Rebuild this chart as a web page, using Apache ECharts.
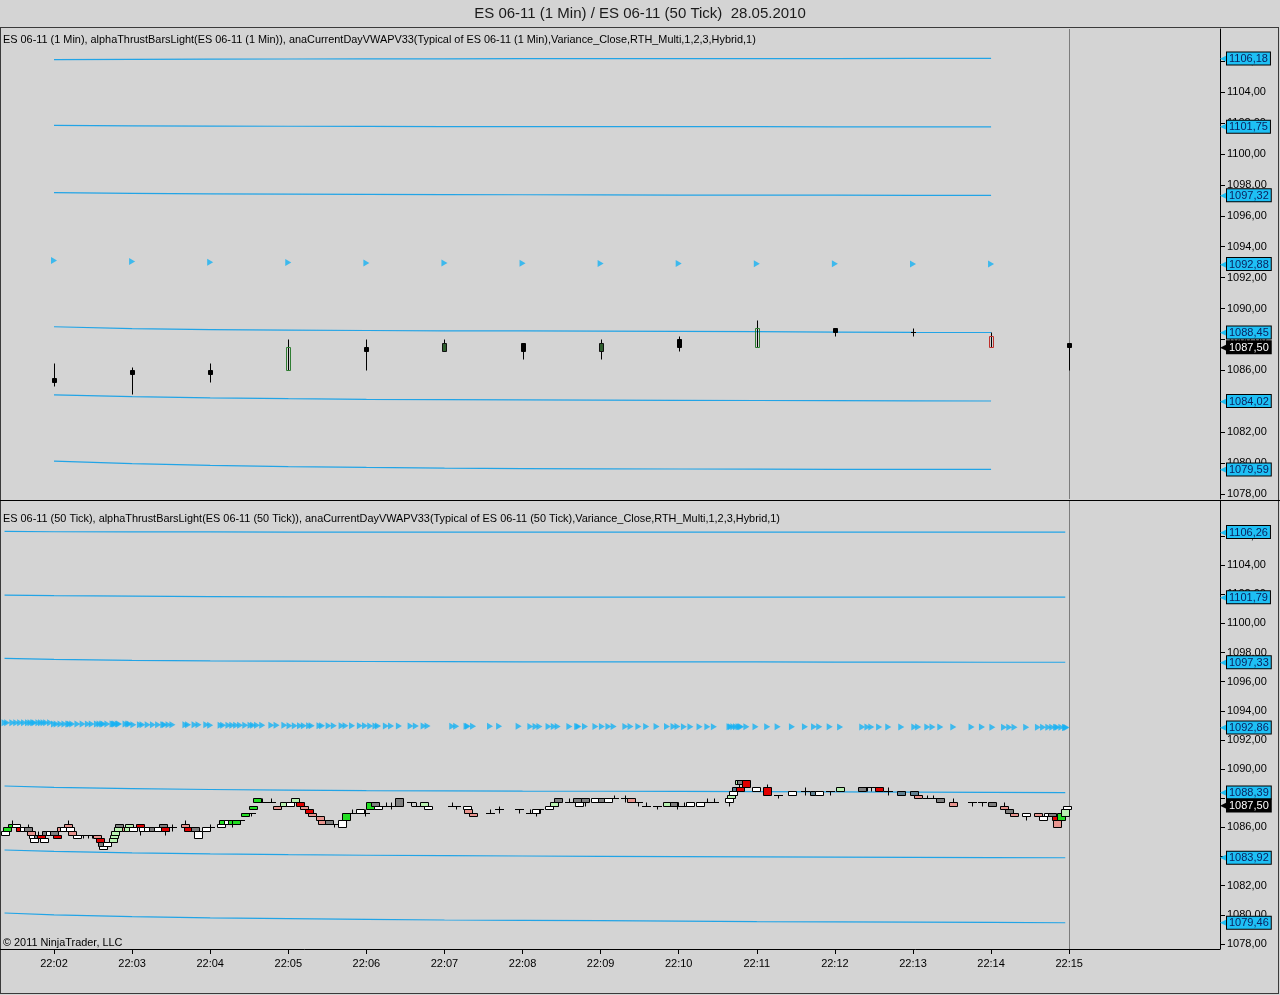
<!DOCTYPE html>
<html>
<head>
<meta charset="utf-8">
<title>ES 06-11 (1 Min) / ES 06-11 (50 Tick)</title>
<script src="https://cdn.jsdelivr.net/npm/echarts@6/dist/echarts.min.js"></script>
<style>
html, body { margin: 0; padding: 0; background: #d4d4d4; }
#frame { position: absolute; left: 0; top: 27px; width: 1277px; height: 965px; border: 1px solid #3a3a3a; }
#split { position: absolute; left: 0; top: 500px; width: 1280px; height: 1px; background: #000; }
#chart { position: absolute; left: 0; top: 0; width: 1280px; height: 995px; }
</style>
</head>
<body>
<div id="frame"></div>
<div id="split"></div>
<div id="chart"></div>
<script>
// Two stacked panels: 1-minute candles (top) and 50-tick bars (bottom),
// both with the session VWAP (triangles) and its 1/2/3 sigma bands.
// Time is kept as seconds after 22:00.

var FONT = 'Liberation Sans, Arial, sans-serif';
var BAND = '#22a4e6';
var TRI = '#16b2f2';

var minuteTicks = [120, 180, 240, 300, 360, 420, 480, 540, 600, 660, 720, 780, 840, 900];
var priceTicks = [1078, 1080, 1082, 1084, 1086, 1088, 1090, 1092, 1094, 1096, 1098, 1100, 1102, 1104, 1106];
var cursorTime = 900;
var lastPrice = 1087.5;

// [sec, open, close, low, high, style]
var minuteBars = [
    [120, 1085.5, 1085.25, 1085.0, 1086.5, 'K'],
    [180, 1086.0, 1085.75, 1084.5, 1086.25, 'K'],
    [240, 1086.0, 1085.75, 1085.25, 1086.5, 'K'],
    [300, 1086.0, 1087.5, 1086.0, 1088.0, 'UG'],
    [360, 1087.5, 1087.25, 1086.0, 1088.0, 'K'],
    [420, 1087.25, 1087.75, 1087.25, 1088.0, 'DG'],
    [480, 1087.75, 1087.25, 1086.75, 1087.75, 'K'],
    [540, 1087.25, 1087.75, 1086.75, 1088.0, 'DG'],
    [600, 1088.0, 1087.5, 1087.25, 1088.25, 'K'],
    [660, 1087.5, 1088.75, 1087.5, 1089.25, 'UG'],
    [720, 1088.75, 1088.5, 1088.25, 1088.75, 'K'],
    [780, 1088.5, 1088.5, 1088.25, 1088.75, 'K'],
    [840, 1088.25, 1087.5, 1087.5, 1088.5, 'UR'],
    [900, 1087.75, 1087.5, 1086.0, 1087.75, 'K']
];

var minuteBandTimes = [120, 180, 240, 300, 360, 420, 480, 540, 600, 660, 720, 780, 840];
var minuteUpper3 = [1106.10, 1106.12, 1106.13, 1106.14, 1106.15, 1106.15, 1106.16, 1106.16, 1106.17, 1106.17, 1106.17, 1106.18, 1106.18];
var minuteUpper2 = [1101.85, 1101.82, 1101.80, 1101.79, 1101.78, 1101.77, 1101.77, 1101.76, 1101.76, 1101.76, 1101.75, 1101.75, 1101.75];
var minuteUpper1 = [1097.50, 1097.45, 1097.42, 1097.40, 1097.38, 1097.37, 1097.36, 1097.35, 1097.34, 1097.34, 1097.33, 1097.32, 1097.32];
var minuteVwap = [1093.10, 1093.04, 1093.00, 1092.97, 1092.95, 1092.94, 1092.93, 1092.92, 1092.91, 1092.90, 1092.89, 1092.88, 1092.88];
var minuteLower1 = [1088.82, 1088.70, 1088.64, 1088.60, 1088.58, 1088.56, 1088.55, 1088.54, 1088.52, 1088.50, 1088.48, 1088.46, 1088.45];
var minuteLower2 = [1084.41, 1084.30, 1084.22, 1084.17, 1084.13, 1084.11, 1084.09, 1084.07, 1084.06, 1084.05, 1084.04, 1084.03, 1084.02];
var minuteLower3 = [1080.13, 1079.97, 1079.86, 1079.78, 1079.72, 1079.68, 1079.65, 1079.63, 1079.62, 1079.61, 1079.60, 1079.59, 1079.59];

// 50 tick bars: [sec, open, close, low, high, colour]; D = doji
var tickBars = [
    [82, 1085.5, 1085.75, 1085.5, 1085.75, 'W'], [84, 1085.75, 1086.0, 1085.75, 1086.0, 'G'],
    [88, 1086.0, 1086.25, 1086.0, 1086.5, 'G'], [91, 1086.25, 1086.0, 1085.75, 1086.25, 'W'],
    [94, 1086.0, 1085.75, 1085.75, 1086.0, 'R'], [97, 1085.75, 1086.0, 1085.75, 1086.0, 'W'],
    [100, 1086.0, 1085.75, 1085.75, 1086.25, 'GR'], [102, 1085.75, 1085.5, 1085.5, 1085.75, 'PK'],
    [104, 1085.5, 1085.25, 1085.25, 1085.5, 'W'], [105, 1085.25, 1085.0, 1085.0, 1085.25, 'W'],
    [108, 1085.25, 1085.5, 1085.25, 1085.75, 'GR'], [110, 1085.5, 1085.25, 1085.25, 1085.5, 'R'],
    [112, 1085.25, 1085.0, 1085.0, 1085.25, 'W'], [114, 1085.5, 1085.75, 1085.5, 1085.75, 'GR'],
    [117, 1085.75, 1085.5, 1085.5, 1085.75, 'W'], [120, 1085.5, 1085.75, 1085.5, 1085.75, 'GR'],
    [122, 1085.5, 1085.25, 1085.25, 1085.5, 'R'], [125, 1085.75, 1086.0, 1085.75, 1086.0, 'PK'],
    [128, 1086.0, 1085.75, 1085.75, 1086.0, 'W'], [131, 1086.0, 1086.25, 1086.0, 1086.5, 'PK'],
    [132, 1086.0, 1085.75, 1085.75, 1086.0, 'W'], [134, 1085.75, 1085.5, 1085.5, 1085.75, 'PK'],
    [138, 1085.5, 1085.25, 1085.25, 1085.5, 'W'], [142, 1085.5, 1085.5, 1085.25, 1085.5, 'D'],
    [146, 1085.5, 1085.5, 1085.25, 1085.5, 'D'], [149, 1085.5, 1085.5, 1085.25, 1085.5, 'D'],
    [153, 1085.5, 1085.25, 1085.25, 1085.5, 'PK'], [155, 1085.25, 1085.0, 1085.0, 1085.25, 'R'],
    [157, 1085.0, 1084.75, 1084.75, 1085.0, 'GR'], [158, 1084.75, 1084.5, 1084.5, 1084.75, 'W'],
    [161, 1084.75, 1085.0, 1084.5, 1085.0, 'W'], [165, 1085.0, 1085.25, 1085.0, 1085.25, 'LG'],
    [166, 1085.25, 1085.5, 1085.25, 1085.5, 'LG'], [167, 1085.5, 1085.75, 1085.5, 1085.75, 'LG'],
    [169, 1085.75, 1086.0, 1085.75, 1086.0, 'LG'], [170, 1086.0, 1086.25, 1086.0, 1086.25, 'GR'],
    [175, 1086.0, 1085.75, 1085.75, 1086.0, 'PK'], [177, 1085.75, 1086.0, 1085.75, 1086.0, 'LG'],
    [178, 1086.0, 1086.25, 1086.0, 1086.25, 'LG'], [181, 1086.0, 1085.75, 1085.75, 1086.0, 'W'],
    [186, 1086.25, 1086.0, 1085.5, 1086.25, 'R'], [188, 1086.0, 1085.75, 1085.75, 1086.0, 'W'],
    [192, 1085.75, 1086.0, 1085.75, 1086.0, 'W'], [196, 1086.0, 1085.75, 1085.75, 1086.0, 'GR'],
    [200, 1085.75, 1086.0, 1085.75, 1086.0, 'W'], [204, 1086.0, 1086.25, 1086.0, 1086.25, 'GR'],
    [205, 1086.0, 1085.75, 1085.5, 1086.0, 'R'], [208, 1086.0, 1086.0, 1085.75, 1086.0, 'D'],
    [211, 1086.0, 1086.0, 1085.75, 1086.25, 'D'],
    [221, 1086.25, 1086.0, 1086.0, 1086.5, 'PK'], [223, 1086.0, 1085.75, 1085.75, 1086.0, 'R'],
    [228, 1086.0, 1085.75, 1085.75, 1086.0, 'GR'], [231, 1085.75, 1085.25, 1085.25, 1085.75, 'W'],
    [237, 1085.75, 1086.0, 1085.75, 1086.0, 'W'], [240, 1086.0, 1086.0, 1086.0, 1086.25, 'D'],
    [248, 1086.0, 1086.25, 1086.0, 1086.25, 'W'], [250, 1086.25, 1086.5, 1086.25, 1086.5, 'G'],
    [254, 1086.5, 1086.25, 1086.25, 1086.5, 'W'], [257, 1086.25, 1086.5, 1086.0, 1086.5, 'G'],
    [260, 1086.25, 1086.5, 1086.25, 1086.5, 'G'], [263, 1086.5, 1086.5, 1086.25, 1086.5, 'D'],
    [267, 1086.75, 1087.0, 1086.75, 1087.0, 'G'], [271, 1087.0, 1087.0, 1086.75, 1087.0, 'D'],
    [273, 1087.25, 1087.5, 1087.25, 1087.5, 'G'], [276, 1087.75, 1088.0, 1087.75, 1088.0, 'G'],
    [280, 1087.75, 1087.75, 1087.75, 1088.0, 'D'], [287, 1087.75, 1087.75, 1087.75, 1088.0, 'D'],
    [291, 1087.5, 1087.25, 1087.25, 1087.5, 'PK'], [297, 1087.5, 1087.75, 1087.5, 1087.75, 'LG'],
    [301, 1087.75, 1087.5, 1087.5, 1087.75, 'W'], [305, 1087.75, 1088.0, 1087.75, 1088.0, 'LG'],
    [309, 1087.75, 1087.5, 1087.5, 1087.75, 'R'], [312, 1087.5, 1087.25, 1087.25, 1087.5, 'PK'],
    [316, 1087.25, 1087.0, 1087.0, 1087.25, 'R'], [318, 1087.0, 1086.75, 1086.75, 1087.0, 'PK'],
    [324, 1086.75, 1086.5, 1086.5, 1086.75, 'PK'], [326, 1086.5, 1086.25, 1086.25, 1086.5, 'PK'],
    [331, 1086.5, 1086.25, 1086.25, 1086.5, 'GR'], [335, 1086.25, 1086.25, 1086.0, 1086.25, 'D'],
    [341, 1086.0, 1086.5, 1086.0, 1086.5, 'W'], [344, 1086.5, 1087.0, 1086.5, 1087.0, 'G'],
    [349, 1087.0, 1087.0, 1087.0, 1087.25, 'D'], [355, 1087.0, 1087.25, 1087.0, 1087.25, 'W'],
    [359, 1087.0, 1087.0, 1086.75, 1087.25, 'D'], [363, 1087.25, 1087.75, 1087.25, 1087.75, 'G'],
    [367, 1087.75, 1087.5, 1087.5, 1087.75, 'GR'], [369, 1087.5, 1087.25, 1087.25, 1087.5, 'W'],
    [375, 1087.5, 1087.5, 1087.5, 1087.75, 'D'], [379, 1087.5, 1087.5, 1087.25, 1087.75, 'D'],
    [385, 1087.5, 1088.0, 1087.5, 1088.0, 'GR'], [394, 1087.75, 1087.75, 1087.5, 1087.75, 'D'],
    [398, 1087.5, 1087.5, 1087.5, 1087.75, 'D'], [404, 1087.5, 1087.75, 1087.5, 1087.75, 'LG'],
    [407, 1087.5, 1087.25, 1087.25, 1087.5, 'W'],
    [426, 1087.5, 1087.5, 1087.5, 1087.75, 'D'], [429, 1087.5, 1087.5, 1087.25, 1087.5, 'D'],
    [437, 1087.25, 1087.5, 1087.25, 1087.5, 'W'], [438, 1087.25, 1087.0, 1087.0, 1087.25, 'PK'],
    [442, 1087.0, 1086.75, 1086.75, 1087.0, 'PK'], [455, 1087.0, 1087.0, 1087.0, 1087.25, 'D'],
    [462, 1087.25, 1087.25, 1087.0, 1087.5, 'D'], [477, 1087.25, 1087.25, 1087.0, 1087.25, 'D'],
    [486, 1087.0, 1087.0, 1087.0, 1087.25, 'D'], [490, 1087.0, 1087.25, 1086.75, 1087.25, 'W'],
    [493, 1087.25, 1087.25, 1087.0, 1087.25, 'D'], [500, 1087.25, 1087.5, 1087.25, 1087.5, 'W'],
    [504, 1087.5, 1087.75, 1087.5, 1087.75, 'LG'], [507, 1087.75, 1088.0, 1087.5, 1088.0, 'GR'],
    [516, 1087.75, 1087.75, 1087.75, 1088.0, 'D'], [522, 1087.75, 1088.0, 1087.75, 1088.0, 'GR'],
    [523, 1087.75, 1087.5, 1087.5, 1087.75, 'W'], [528, 1088.0, 1087.75, 1087.5, 1088.0, 'GR'],
    [536, 1087.75, 1088.0, 1087.75, 1088.0, 'W'], [541, 1088.0, 1087.75, 1087.75, 1088.0, 'GR'],
    [546, 1087.75, 1088.0, 1087.75, 1088.0, 'W'], [550, 1088.0, 1088.0, 1088.0, 1088.25, 'D'],
    [559, 1088.0, 1088.0, 1087.75, 1088.25, 'D'], [563, 1088.0, 1087.75, 1087.75, 1088.0, 'PK'],
    [569, 1087.75, 1087.75, 1087.5, 1087.75, 'D'], [575, 1087.5, 1087.5, 1087.5, 1087.75, 'D'],
    [583, 1087.5, 1087.5, 1087.25, 1087.5, 'D'], [591, 1087.5, 1087.75, 1087.5, 1087.75, 'LG'],
    [596, 1087.75, 1087.5, 1087.5, 1087.75, 'GR'], [599, 1087.5, 1087.5, 1087.25, 1087.75, 'D'],
    [604, 1087.5, 1087.5, 1087.5, 1087.75, 'D'], [609, 1087.5, 1087.75, 1087.5, 1087.75, 'W'],
    [616, 1087.75, 1087.5, 1087.5, 1087.75, 'W'], [622, 1087.75, 1087.75, 1087.75, 1088.0, 'D'],
    [627, 1087.75, 1087.75, 1087.75, 1088.0, 'D'], [639, 1087.75, 1088.0, 1087.5, 1088.0, 'W'],
    [640, 1088.0, 1088.25, 1088.0, 1088.25, 'LG'], [642, 1088.25, 1088.5, 1088.25, 1088.5, 'W'],
    [644, 1088.5, 1088.75, 1088.5, 1088.75, 'SL'], [646, 1089.0, 1089.25, 1088.75, 1089.25, 'LG'],
    [647, 1088.75, 1088.5, 1088.5, 1088.75, 'R'], [648, 1089.25, 1089.0, 1089.0, 1089.25, 'GR'],
    [652, 1089.25, 1088.75, 1088.75, 1089.25, 'R'], [659, 1088.75, 1088.5, 1088.5, 1088.75, 'W'],
    [668, 1088.75, 1088.25, 1088.25, 1089.0, 'R'], [676, 1088.25, 1088.25, 1088.0, 1088.25, 'D'],
    [687, 1088.25, 1088.5, 1088.25, 1088.5, 'W'], [697, 1088.5, 1088.5, 1088.25, 1088.75, 'D'],
    [704, 1088.5, 1088.25, 1088.25, 1088.5, 'SL'], [708, 1088.25, 1088.5, 1088.25, 1088.5, 'W'],
    [716, 1088.5, 1088.5, 1088.25, 1088.5, 'D'], [724, 1088.5, 1088.75, 1088.5, 1088.75, 'LG'],
    [741, 1088.75, 1088.5, 1088.5, 1088.75, 'GR'], [745, 1088.75, 1088.75, 1088.5, 1088.75, 'D'],
    [748, 1088.75, 1088.75, 1088.5, 1088.75, 'D'], [754, 1088.75, 1088.5, 1088.5, 1088.75, 'R'],
    [761, 1088.5, 1088.5, 1088.25, 1088.75, 'D'], [771, 1088.5, 1088.25, 1088.25, 1088.5, 'SL'],
    [781, 1088.5, 1088.25, 1088.25, 1088.5, 'SL'], [784, 1088.25, 1088.0, 1088.0, 1088.25, 'PK'],
    [791, 1088.0, 1088.0, 1088.0, 1088.25, 'D'], [795, 1088.0, 1088.0, 1088.0, 1088.25, 'D'],
    [801, 1088.0, 1087.75, 1087.75, 1088.0, 'GR'], [811, 1087.75, 1087.5, 1087.5, 1088.0, 'PK'],
    [825, 1087.75, 1087.75, 1087.5, 1087.75, 'D'], [833, 1087.75, 1087.75, 1087.5, 1087.75, 'D'],
    [841, 1087.75, 1087.5, 1087.5, 1087.75, 'GR'], [850, 1087.5, 1087.25, 1087.25, 1087.75, 'PK'],
    [854, 1087.25, 1087.0, 1087.0, 1087.25, 'GR'], [858, 1087.0, 1086.75, 1086.75, 1087.0, 'PK'],
    [867, 1086.75, 1087.0, 1086.5, 1087.0, 'W'], [876, 1087.0, 1086.75, 1086.75, 1087.0, 'PK'],
    [880, 1086.75, 1086.5, 1086.5, 1086.75, 'W'], [884, 1086.75, 1087.0, 1086.75, 1087.0, 'W'],
    [887, 1087.0, 1086.75, 1086.75, 1087.0, 'GR'], [890, 1086.75, 1086.5, 1086.5, 1086.75, 'R'],
    [891, 1086.5, 1086.0, 1086.0, 1086.5, 'PK'], [894, 1086.5, 1087.0, 1086.5, 1087.0, 'G'],
    [897, 1086.75, 1087.25, 1086.75, 1087.25, 'LG'], [898, 1087.25, 1087.5, 1087.25, 1087.5, 'W']
];

var tickBandTimes = [82, 120, 180, 240, 300, 360, 420, 480, 540, 600, 660, 720, 780, 840, 897];
var tickUpper3 = [1106.30, 1106.28, 1106.27, 1106.27, 1106.26, 1106.26, 1106.26, 1106.26, 1106.26, 1106.26, 1106.26, 1106.26, 1106.26, 1106.26, 1106.26];
var tickUpper2 = [1101.94, 1101.90, 1101.86, 1101.83, 1101.82, 1101.81, 1101.80, 1101.80, 1101.80, 1101.79, 1101.79, 1101.79, 1101.79, 1101.79, 1101.79];
var tickUpper1 = [1097.60, 1097.52, 1097.46, 1097.42, 1097.40, 1097.38, 1097.37, 1097.36, 1097.36, 1097.35, 1097.35, 1097.34, 1097.34, 1097.33, 1097.33];
var tickVwap = [1093.18, 1093.10, 1093.04, 1093.00, 1092.97, 1092.95, 1092.94, 1092.93, 1092.92, 1092.91, 1092.90, 1092.89, 1092.88, 1092.87, 1092.86];
var tickLower1 = [1088.84, 1088.74, 1088.66, 1088.60, 1088.56, 1088.53, 1088.51, 1088.49, 1088.48, 1088.47, 1088.46, 1088.44, 1088.42, 1088.40, 1088.39];
var tickLower2 = [1084.45, 1084.35, 1084.25, 1084.18, 1084.13, 1084.09, 1084.06, 1084.04, 1084.02, 1084.00, 1083.98, 1083.96, 1083.95, 1083.93, 1083.92];
var tickLower3 = [1080.13, 1080.00, 1079.88, 1079.80, 1079.74, 1079.69, 1079.65, 1079.62, 1079.60, 1079.57, 1079.54, 1079.52, 1079.50, 1079.48, 1079.46];

var minuteStyle = {
    K:  { fill: '#000000', stroke: '#000000' },
    UG: { fill: 'rgba(0,0,0,0)', stroke: '#2f7d32' },
    DG: { fill: '#2e5e2e', stroke: '#111111' },
    UR: { fill: 'rgba(0,0,0,0)', stroke: '#c0302c' }
};
var tickFill = { W: '#ffffff', LG: '#b8f0b0', G: '#22dd22', GR: '#7f7f7f', SL: '#5f8091', PK: '#e8958f', R: '#e00000' };

function price(v) { return v.toFixed(2).replace('.', ','); }
function clock(s) {
    var m = Math.floor(s / 60);
    return '22:' + (m < 10 ? '0' + m : m);
}

// box + wick bars; a bar with open == close is drawn as a flat dash
function barRenderer(rows, bodyW, styleOf) {
    var half = Math.floor(bodyW / 2);
    return function (params, api) {
        var row = rows[params.dataIndex];
        var t = api.value(0);
        var pO = api.coord([t, api.value(1)]);
        var pC = api.coord([t, api.value(2)]);
        var pL = api.coord([t, api.value(3)]);
        var pH = api.coord([t, api.value(4)]);
        var x = Math.round(pO[0]) + 0.5;
        var st = styleOf(row[5]);
        var kids = [{
            type: 'line',
            shape: { x1: x, y1: Math.round(pH[1]) + 0.5, x2: x, y2: Math.round(pL[1]) + 0.5 },
            style: { stroke: '#000', lineWidth: 1 }
        }];
        if (row[1] === row[2]) {
            var yd = Math.round(pO[1]) + 0.5;
            kids.push({ type: 'line', shape: { x1: x - half - 0.5, y1: yd, x2: x + half + 0.5, y2: yd }, style: { stroke: '#000', lineWidth: 1 } });
        } else {
            var y0 = Math.round(Math.min(pO[1], pC[1])) + 0.5;
            var y1 = Math.round(Math.max(pO[1], pC[1])) + 0.5;
            kids.push({ type: 'rect', shape: { x: x - half, y: y0, width: half * 2, height: y1 - y0 }, style: { fill: st.fill, stroke: st.stroke, lineWidth: 1 } });
        }
        return { type: 'group', children: kids };
    };
}

function tagLabel(dark) {
    return {
        show: true,
        position: 'end',
        distance: 0,
        formatter: function (p) { return '{a|◀}{b|' + price(p.value) + '}'; },
        rich: {
            a: { color: dark ? '#000' : '#1ec0f5', fontSize: 13, padding: [0, -3, 0, 0] },
            b: {
                fontFamily: FONT, fontSize: 11, lineHeight: 12,
                color: dark ? '#ffffff' : '#0b2460',
                backgroundColor: dark ? '#000000' : '#1ec0f5',
                borderColor: '#000', borderWidth: 1, padding: [1, 2, 0, 2]
            }
        }
    };
}

function tagLine(v) {
    return {
        silent: true, animation: false, symbol: ['none', 'none'],
        lineStyle: { width: 0, color: 'rgba(0,0,0,0)' },
        label: tagLabel(false),
        data: [{ yAxis: v }]
    };
}

function bandSeries(axis, times, values) {
    var pts = [];
    for (var i = 0; i < times.length; i++) pts.push([times[i], values[i]]);
    return {
        type: 'line', xAxisIndex: axis, yAxisIndex: axis, data: pts,
        symbol: 'none', silent: true, animation: false,
        lineStyle: { color: BAND, width: 1.2 },
        markLine: tagLine(values[values.length - 1])
    };
}

// VWAP marker per bar: value of the latest listed VWAP reading at or before the bar
function vwapAt(times, values, t) {
    var v = values[0];
    for (var i = 0; i < times.length; i++) { if (times[i] <= t) v = values[i]; }
    return v;
}

function barSeries(axis, rows, bodyW, styleOf) {
    var data = [];
    for (var i = 0; i < rows.length; i++) data.push(rows[i].slice(0, 5));
    return {
        type: 'custom', xAxisIndex: axis, yAxisIndex: axis, data: data,
        encode: { x: 0, y: [1, 2, 3, 4] }, clip: true, silent: true, animation: false,
        renderItem: barRenderer(rows, bodyW, styleOf),
        markLine: {
            silent: true, animation: false, symbol: ['none', 'none'],
            data: [
                { xAxis: cursorTime, lineStyle: { color: '#7c7c7c', width: 1, type: 'solid' }, label: { show: false } },
                { yAxis: lastPrice, lineStyle: { width: 0, color: 'rgba(0,0,0,0)' }, label: tagLabel(true) }
            ]
        },
        z: 5
    };
}

function triSeries(axis, pts, size) {
    return {
        type: 'scatter', xAxisIndex: axis, yAxisIndex: axis, data: pts,
        symbol: 'path://M0,0L9,5L0,10Z', symbolSize: size, silent: true, animation: false,
        itemStyle: { color: TRI },
        markLine: tagLine(pts[pts.length - 1][1])
    };
}

var minuteTri = [];
for (var i = 0; i < minuteBandTimes.length; i++) minuteTri.push([minuteBandTimes[i], minuteVwap[i]]);
var tickTri = [];
for (var j = 0; j < tickBars.length; j++) {
    tickTri.push([tickBars[j][0], vwapAt(tickBandTimes, tickVwap, tickBars[j][0])]);
}
tickTri.push([tickBandTimes[tickBandTimes.length - 1], tickVwap[tickVwap.length - 1]]);

function yAxis(idx, min, max) {
    return {
        type: 'value', gridIndex: idx, position: 'right', min: min, max: max,
        axisLine: { show: true, lineStyle: { color: '#000', width: 1 } },
        axisTick: { show: true, length: 5, customValues: priceTicks, lineStyle: { color: '#000' } },
        axisLabel: { customValues: priceTicks, formatter: price, color: '#000', fontSize: 11, margin: 7, fontFamily: FONT },
        splitLine: { show: false }
    };
}

var legendStyle = { fontSize: 10.9, fontWeight: 'normal', color: '#000', fontFamily: FONT };

var chart = echarts.init(document.getElementById('chart'), null, { renderer: 'canvas' });
chart.setOption({
    backgroundColor: 'transparent',
    animation: false,
    textStyle: { fontFamily: FONT },
    title: [
        { text: 'ES 06-11 (1 Min) / ES 06-11 (50 Tick)  28.05.2010', left: 'center', top: 6, padding: 0,
          textStyle: { fontSize: 15, fontWeight: 'normal', color: '#1a1a1a', fontFamily: FONT } },
        { text: 'ES 06-11 (1 Min), alphaThrustBarsLight(ES 06-11 (1 Min)), anaCurrentDayVWAPV33(Typical of ES 06-11 (1 Min),Variance_Close,RTH_Multi,1,2,3,Hybrid,1)',
          left: 3, top: 34, padding: 0, textStyle: legendStyle },
        { text: 'ES 06-11 (50 Tick), alphaThrustBarsLight(ES 06-11 (50 Tick)), anaCurrentDayVWAPV33(Typical of ES 06-11 (50 Tick),Variance_Close,RTH_Multi,1,2,3,Hybrid,1)',
          left: 3, top: 513, padding: 0, textStyle: legendStyle },
        { text: '© 2011 NinjaTrader, LLC', left: 3, top: 937, padding: 0, textStyle: legendStyle }
    ],
    grid: [
        { left: 0, top: 29, width: 1220, height: 470 },
        { left: 0, top: 501, width: 1220, height: 448 }
    ],
    xAxis: [
        { type: 'value', gridIndex: 0, min: 78.5, max: 1015.9, show: false, splitLine: { show: false } },
        {
            type: 'value', gridIndex: 1, min: 78.5, max: 1015.9,
            axisLine: { show: true, lineStyle: { color: '#000', width: 1 } },
            axisTick: { show: true, length: 5, customValues: minuteTicks, lineStyle: { color: '#000' } },
            axisLabel: { customValues: minuteTicks, formatter: clock, color: '#000', fontSize: 11, margin: 9, fontFamily: FONT },
            splitLine: { show: false }
        }
    ],
    yAxis: [yAxis(0, 1077.68, 1108.08), yAxis(1, 1077.66, 1108.39)],
    series: [
        bandSeries(0, minuteBandTimes, minuteUpper3),
        bandSeries(0, minuteBandTimes, minuteUpper2),
        bandSeries(0, minuteBandTimes, minuteUpper1),
        bandSeries(0, minuteBandTimes, minuteLower1),
        bandSeries(0, minuteBandTimes, minuteLower2),
        bandSeries(0, minuteBandTimes, minuteLower3),
        triSeries(0, minuteTri, [6, 7]),
        barSeries(0, minuteBars, 5, function (k) { return minuteStyle[k]; }),

        bandSeries(1, tickBandTimes, tickUpper3),
        bandSeries(1, tickBandTimes, tickUpper2),
        bandSeries(1, tickBandTimes, tickUpper1),
        bandSeries(1, tickBandTimes, tickLower1),
        bandSeries(1, tickBandTimes, tickLower2),
        bandSeries(1, tickBandTimes, tickLower3),
        triSeries(1, tickTri, [6, 7]),
        barSeries(1, tickBars, 8, function (k) { return { fill: tickFill[k] || '#ffffff', stroke: '#000' }; })
    ]
});
</script>
</body>
</html>
